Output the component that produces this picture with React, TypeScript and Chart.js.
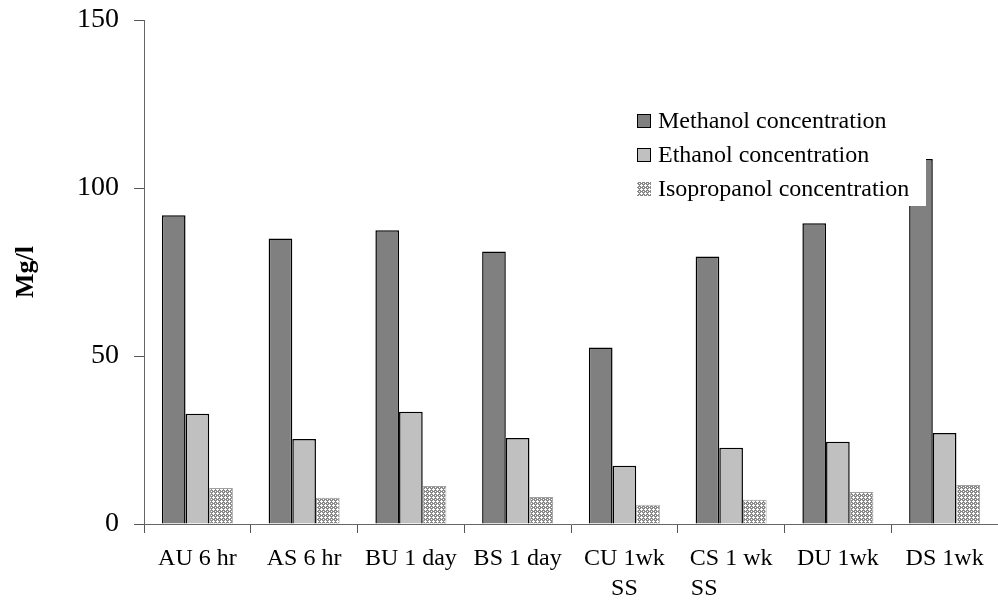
import React, { useEffect, useRef } from "react";
import { Chart, registerables } from "chart.js";

Chart.register(...registerables);

const categories: (string | string[])[] = [
  "AU 6 hr",
  "AS 6 hr",
  "BU 1 day",
  "BS 1 day",
  ["CU 1wk", "SS"],
  ["CS 1 wk", "SS         "],
  "DU 1wk",
  "DS 1wk",
];
const methanol = [91.9, 85.0, 87.4, 81.1, 52.5, 79.6, 89.5, 108.6];
const ethanol = [32.8, 25.3, 33.4, 25.6, 17.3, 22.7, 24.5, 27.1];
const isopropanol = [10.7, 7.8, 11.3, 8.0, 5.7, 7.2, 9.5, 11.6];
const seriesNames = [
  "Methanol concentration",
  "Ethanol concentration",
  "Isopropanol concentration",
];
const yTicks = [0, 50, 100, 150];
const yTitle = "Mg/l";

const FONT = "'Liberation Serif', 'Times New Roman', serif";

function makePattern(): CanvasPattern | string {
  const c = document.createElement("canvas");
  c.width = 4;
  c.height = 4;
  const g = c.getContext("2d");
  if (!g) return "#bbbbbb";
  g.fillStyle = "#8a8a8a";
  g.fillRect(0, 0, 4, 4);
  g.fillStyle = "#ffffff";
  const pts = [
    [1, 0],
    [0, 1],
    [1, 1],
    [2, 1],
    [1, 2],
    [3, 3],
  ];
  pts.forEach(([x, y]) => g.fillRect(x, y, 1, 1));
  const p = g.createPattern(c, "repeat");
  return p || "#bbbbbb";
}

export default function App() {
  const ref = useRef<HTMLCanvasElement | null>(null);

  useEffect(() => {
    if (!ref.current) return;
    const pattern = makePattern();
    const fills: (string | CanvasPattern)[] = ["#808080", "#c0c0c0", pattern];
    const borders = [1.5, 1.5, 1];
    const borderColors = ["#000000", "#000000", "#a0a0a0"];

    const legendPlugin = {
      id: "customLegend",
      afterDraw(chart: any) {
        const ctx = chart.ctx as CanvasRenderingContext2D;
        ctx.save();
        ctx.fillStyle = "#ffffff";
        ctx.fillRect(630, 100, 296, 106);
        ctx.font = `24px ${FONT}`;
        ctx.textBaseline = "middle";
        ctx.textAlign = "left";
        const rows = [121, 155, 189];
        seriesNames.forEach((name, i) => {
          const cy = rows[i];
          ctx.fillStyle = fills[i] as any;
          ctx.fillRect(637, cy - 7, 14, 14);
          if (i < 2) {
            ctx.strokeStyle = "#000";
            ctx.lineWidth = 1;
            ctx.strokeRect(637.5, cy - 6.5, 13, 13);
          }
          ctx.fillStyle = "#000";
          ctx.fillText(name, 658, cy + 1);
        });
        ctx.restore();
      },
    };

    const chart = new Chart(ref.current, {
      type: "bar",
      data: {
        labels: categories,
        datasets: [methanol, ethanol, isopropanol].map((d, i) => ({
          label: seriesNames[i],
          data: d,
          backgroundColor: fills[i] as any,
          borderColor: borderColors[i],
          borderWidth: borders[i],
          borderSkipped: "bottom" as const,
          categoryPercentage: 0.665,
          barPercentage: 1.0,
        })),
      },
      options: {
        animation: false,
        responsive: false,
        maintainAspectRatio: false,
        layout: { padding: { top: 20, left: 0, right: 0, bottom: 0 } },
        plugins: {
          legend: { display: false },
          tooltip: { enabled: false },
        },
        scales: {
          x: {
            grid: {
              display: true,
              drawOnChartArea: false,
              drawTicks: true,
              tickLength: 9,
              tickColor: "#555555",
              offset: true,
            },
            border: { display: true, color: "#666666", width: 1 },
            ticks: {
              color: "#000",
              font: { family: FONT, size: 24, lineHeight: 1.25 },
              padding: 11,
              maxRotation: 0,
              autoSkip: false,
            },
            afterFit(scale: any) {
              scale.height = 83;
            },
          },
          y: {
            min: 0,
            max: 150,
            afterBuildTicks(scale: any) {
              scale.ticks = yTicks.map((v) => ({ value: v }));
            },
            grid: {
              display: true,
              drawOnChartArea: false,
              drawTicks: true,
              tickLength: 10,
              tickColor: "#555555",
            },
            border: { display: true, color: "#666666", width: 1 },
            ticks: {
              color: "#000",
              font: { family: FONT, size: 28 },
              padding: 15,
            },
            title: {
              display: true,
              text: yTitle,
              color: "#000",
              font: { family: FONT, size: 26, weight: "bold" },
              padding: { top: 11, bottom: 0 },
            },
            afterFit(scale: any) {
              scale.width = 144;
              scale.paddingTop = 0;
              scale.paddingBottom = 0;
            },
          },
        },
      },
      plugins: [legendPlugin],
    });
    return () => chart.destroy();
  }, []);

  return (
    <div
      style={{
        position: "absolute",
        left: 0,
        top: 0,
        width: 998,
        height: 607,
        background: "#fff",
      }}
    >
      <canvas ref={ref} width={998} height={607} style={{ display: "block" }} />
    </div>
  );
}
